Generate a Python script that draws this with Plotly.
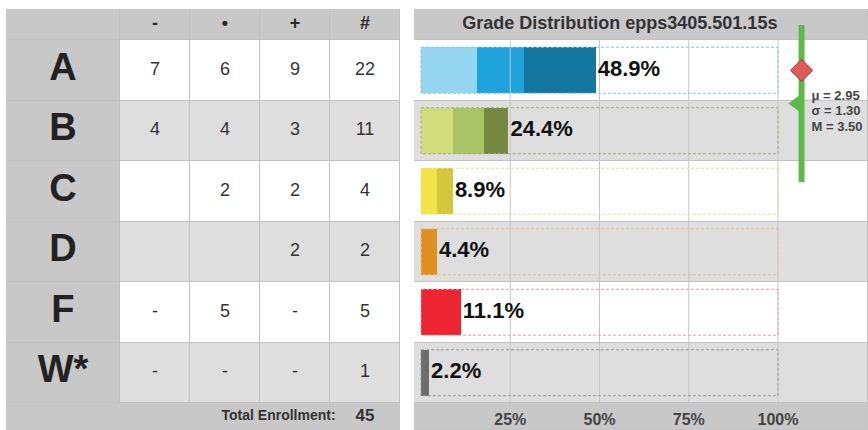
import plotly.graph_objects as go

# ---------------- data ----------------
grades = ["A", "B", "C", "D", "F", "W*"]
col_heads = ["-", "•", "+", "#"]
minus_txt = ["7", "4", "", "", "-", "-"]
dot_txt = ["6", "4", "2", "", "5", "-"]
plus_txt = ["9", "3", "2", "2", "-", "-"]
totals = [22, 11, 4, 2, 5, 1]
minus_n = [7, 4, 0, 0, 0, 0]
dot_n = [6, 4, 2, 0, 5, 0]
plus_n = [9, 3, 2, 2, 0, 0]
enrollment = 45
title = "Grade Distribution epps3405.501.15s"
pct_ticks = [25, 50, 75, 100]
mu, sigma, median = 2.95, 1.30, 3.50

# ---------------- styles ----------------
palette = {
    "A": ["#94d5f0", "#1fa3dc", "#1477a0"],
    "B": ["#cfde7a", "#a9c466", "#74883f"],
    "C": ["#f7ee7a", "#f2e44a", "#d4c73a"],
    "D": ["#f4c070", "#eaa53a", "#e09020"],
    "F": ["#f56a70", "#ed2530", "#b81c24"],
    "W*": ["#6d6d6d", "#6d6d6d", "#6d6d6d"],
}
box_colors = ["#86c4de", "#a9ad82", "#e8e08c", "#ebc48c", "#f49aa0", "#9a9a9a"]
other_color = "#6d6d6d"
WHITE, LIGHT, MID = 0, 1, 2
cscale = [[0, "#ffffff"], [0.5, "#dedede"], [1, "#c8c8c8"]]
LINE = "#c2c2c2"
FONT = "Liberation Sans"

W, H = 868, 430
TOP = 9
row_px = 60.5
hdr_h = 31 / row_px
ftr_h = 27 / row_px
y_top = -0.5 - hdr_h
y_bot = 5.5 + ftr_h
n = len(grades)
rows = list(range(n))

fig = go.Figure()

# ---------------- left table ----------------
lab_w = 114 / 70.06
xl_edges = [0.5 - lab_w, 0.5, 1.5, 2.5, 3.5, 4.5]
y_edges = [y_top] + [i - 0.5 for i in range(n + 1)]
z_left = [[MID] * 5]
for i in rows:
    fill = WHITE if i % 2 == 0 else LIGHT
    z_left.append([MID] + [fill] * 4)
fig.add_trace(go.Heatmap(x=xl_edges, y=y_edges, z=z_left, colorscale=cscale, zmin=0, zmax=2,
                         showscale=False, xgap=1, ygap=1, hoverinfo="skip",
                         xaxis="x", yaxis="y"))
fig.add_trace(go.Heatmap(x=[xl_edges[0], xl_edges[-1]], y=[n - 0.5, y_bot], z=[[MID]],
                         colorscale=cscale, zmin=0, zmax=2, showscale=False,
                         hoverinfo="skip", xaxis="x", yaxis="y"))

hdr_y = (y_top - 0.5) / 2
fig.add_trace(go.Scatter(x=[1, 2, 3, 4], y=[hdr_y] * 4, text=[f"<b>{c}</b>" for c in col_heads],
                         mode="text",
                         textfont=dict(family=FONT, size=18, color="#2a2a2a"),
                         xaxis="x", yaxis="y", hoverinfo="skip"))
lab_x = (xl_edges[0] + 0.5) / 2
fig.add_trace(go.Scatter(x=[lab_x] * n, y=rows, text=[f"<b>{g}</b>" for g in grades], mode="text",
                         textfont=dict(family=FONT, size=38, color="#222222"),
                         xaxis="x", yaxis="y", hoverinfo="skip"))
for ci, col in enumerate([minus_txt, dot_txt, plus_txt, [str(t) for t in totals]]):
    fig.add_trace(go.Scatter(x=[ci + 1] * n, y=rows, text=col, mode="text",
                             textfont=dict(family=FONT, size=18, color="#333333"),
                             xaxis="x", yaxis="y", hoverinfo="skip"))
ftr_y = (n - 0.5 + y_bot) / 2
fig.add_trace(go.Scatter(x=[3.58], y=[ftr_y], text=["<b>Total Enrollment:</b>"], mode="text",
                         textposition="middle left",
                         textfont=dict(family=FONT, size=14, color="#333333"),
                         xaxis="x", yaxis="y", hoverinfo="skip"))
fig.add_trace(go.Scatter(x=[4], y=[ftr_y], text=[f"<b>{enrollment}</b>"], mode="text",
                         textfont=dict(family=FONT, size=17, color="#333333"),
                         xaxis="x", yaxis="y", hoverinfo="skip"))

# ---------------- right chart ----------------
px_per = 3.57
x2_range = [-7 / px_per, (W - 421) / px_per]
yr_edges = [y_top] + [i - 0.5 for i in range(n + 1)] + [y_bot]
z_right = [[MID]] + [[WHITE if i % 2 == 0 else LIGHT] for i in rows] + [[MID]]
fig.add_trace(go.Heatmap(x=x2_range, y=yr_edges, z=z_right, colorscale=cscale, zmin=0, zmax=2,
                         showscale=False, xgap=1, ygap=1, hoverinfo="skip",
                         xaxis="x2", yaxis="y"))
for t in pct_ticks:
    fig.add_trace(go.Scatter(x=[t, t], y=[-0.5, n - 0.5], mode="lines",
                             line=dict(color="#c6c6c6", width=1),
                             xaxis="x2", yaxis="y", hoverinfo="skip"))

bar_h = 0.76
for i in rows:
    y0, y1 = i - bar_h / 2, i + bar_h / 2
    fig.add_trace(go.Scatter(x=[0, 100, 100, 0, 0], y=[y0, y0, y1, y1, y0], mode="lines",
                             line=dict(color=box_colors[i], width=1, dash="3px,2px"),
                             xaxis="x2", yaxis="y", hoverinfo="skip"))

pct = [t / enrollment * 100 for t in totals]
other_n = [t - a - b - c for t, a, b, c in zip(totals, minus_n, dot_n, plus_n)]
for k, seg in enumerate([minus_n, dot_n, plus_n]):
    fig.add_trace(go.Bar(y=rows, x=[v / enrollment * 100 for v in seg], orientation="h",
                         width=bar_h, marker=dict(color=[palette[g][k] for g in grades], line_width=0),
                         xaxis="x2", yaxis="y", hoverinfo="skip"))
fig.add_trace(go.Bar(y=rows, x=[v / enrollment * 100 for v in other_n], orientation="h",
                     width=bar_h, marker=dict(color=other_color, line_width=0),
                     xaxis="x2", yaxis="y", hoverinfo="skip"))

fig.add_trace(go.Scatter(x=[p + 0.6 for p in pct], y=rows, text=[f"<b>{p:.1f}%</b>" for p in pct],
                         mode="text", textposition="middle right",
                         textfont=dict(family=FONT, size=22, color="#111111"),
                         xaxis="x2", yaxis="y", hoverinfo="skip"))

fig.add_trace(go.Scatter(x=pct_ticks, y=[ftr_y + 0.08] * len(pct_ticks),
                         text=[f"<b>{t}%</b>" for t in pct_ticks], mode="text",
                         textfont=dict(family=FONT, size=16, color="#444444"),
                         xaxis="x2", yaxis="y", hoverinfo="skip"))
fig.add_trace(go.Scatter(x=[55.7], y=[hdr_y], text=[f"<b>{title}</b>"], mode="text",
                         textfont=dict(family=FONT, size=18, color="#333333"),
                         xaxis="x2", yaxis="y", hoverinfo="skip"))

# stats marker: GPA bands, A band spans GPA 3..4 on row 0
def gpa_row(g):
    return 3.5 - g

sx = 106.6
fig.add_trace(go.Scatter(x=[sx, sx], y=[gpa_row(mu + sigma), gpa_row(mu - sigma)], mode="lines",
                         line=dict(color="#5cbb48", width=6),
                         xaxis="x2", yaxis="y", hoverinfo="skip"))
fig.add_trace(go.Scatter(x=[sx - 1.7], y=[gpa_row(mu)], mode="markers",
                         marker=dict(symbol="triangle-left", size=14, color="#5cbb48", line_width=0),
                         xaxis="x2", yaxis="y", hoverinfo="skip"))
fig.add_trace(go.Scatter(x=[sx], y=[gpa_row(median)], mode="markers",
                         marker=dict(symbol="diamond", size=17, color="#e05a5a",
                                     line=dict(color="#a83232", width=1)),
                         xaxis="x2", yaxis="y", hoverinfo="skip"))
stats_txt = [f"<b>μ = {mu:.2f}</b>", f"<b>σ = {sigma:.2f}</b>", f"<b>M = {median:.2f}</b>"]
fig.add_trace(go.Scatter(x=[sx + 2.8] * 3, y=[gpa_row(mu) + d for d in (-0.12, 0.14, 0.40)],
                         text=stats_txt, mode="text", textposition="middle right",
                         textfont=dict(family=FONT, size=13, color="#444444"),
                         xaxis="x2", yaxis="y", hoverinfo="skip"))

fig.update_layout(
    width=W, height=H,
    margin=dict(l=0, r=0, t=TOP, b=0),
    paper_bgcolor="white", plot_bgcolor=LINE,
    showlegend=False, barmode="stack",
    xaxis=dict(domain=[6 / W, 400 / W], range=[xl_edges[0], xl_edges[-1]], visible=False, fixedrange=True),
    xaxis2=dict(domain=[414 / W, 1], range=x2_range, visible=False, fixedrange=True),
    yaxis=dict(range=[y_bot, y_top], visible=False, fixedrange=True),
)
fig.write_html("out.html", config={"displayModeBar": False})
